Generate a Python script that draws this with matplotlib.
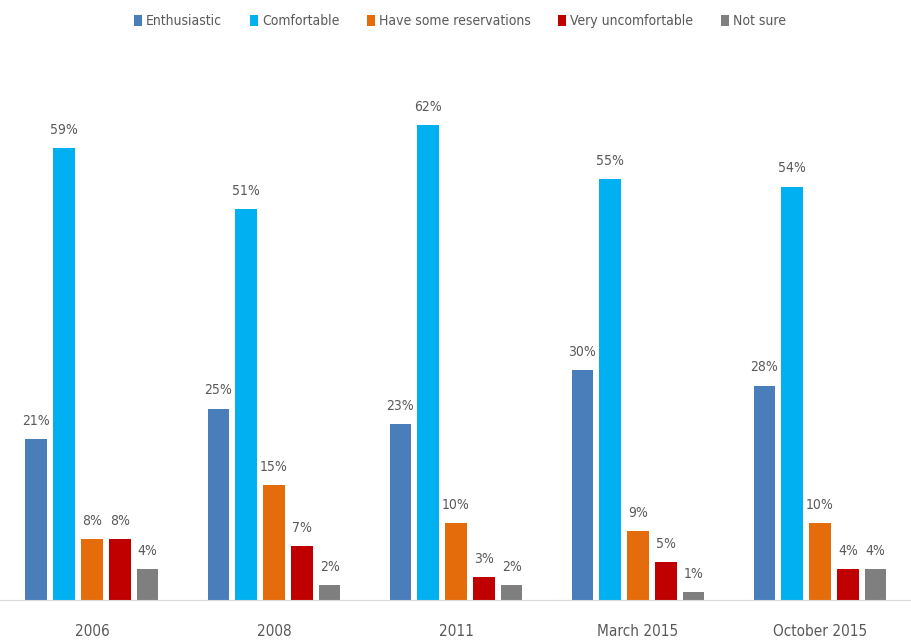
import numpy as np
import matplotlib.pyplot as plt
from matplotlib import font_manager

condensed = [f for f in font_manager.fontManager.ttflist
             if f.name == "DejaVu Sans" and f.stretch in ("condensed", "semi-condensed", 500, 600)]
if condensed:
    plt.rcParams["font.stretch"] = "condensed"
plt.rcParams["font.family"] = ["DejaVu Sans"]

years = ["2006", "2008", "2011", "March 2015", "October 2015"]
series = ["Enthusiastic", "Comfortable", "Have some reservations",
          "Very uncomfortable", "Not sure"]
enthusiastic = [21, 25, 23, 30, 28]
comfortable = [59, 51, 62, 55, 54]
reservations = [8, 15, 10, 9, 10]
uncomfortable = [8, 7, 3, 5, 4]
not_sure = [4, 2, 2, 1, 4]
values = [enthusiastic, comfortable, reservations, uncomfortable, not_sure]
colors = ["#4A7EBB", "#00B0F0", "#E46C0A", "#C00000", "#7F7F7F"]

fs = 10 if condensed else 9
text_col = "#595959"
fig = plt.figure(figsize=(9.11, 6.43), dpi=100)
ax = fig.add_axes([0, 43 / 643, 1, 1 - 43 / 643 - 64 / 643])

x = np.arange(len(years))
pitch = 0.153
width = 0.118
for i, (name, vals, c) in enumerate(zip(series, values, colors)):
    pos = x + (i - 2) * pitch
    bars = ax.bar(pos, vals, width, color=c, label=name)
    for b, v in zip(bars, vals):
        ax.annotate(f"{v}%", (b.get_x() + b.get_width() / 2, v),
                    xytext=(0, 8), textcoords="offset points",
                    ha="center", va="bottom", fontsize=fs, color=text_col)

ax.set_xlim(-0.505, 4.5)
ax.set_ylim(0, 70)
ax.set_xticks(x)
ax.set_xticklabels(years, fontsize=fs + 1, color=text_col)
ax.tick_params(axis="x", length=0, pad=17)
ax.set_yticks([])
for s in ["top", "right", "left"]:
    ax.spines[s].set_visible(False)
ax.spines["bottom"].set_color("#D9D9D9")

fig.legend(loc="upper center", bbox_to_anchor=(0.505, 0.997), ncol=5, frameon=False,
           fontsize=fs, handlelength=0.55, handleheight=0.8, handletextpad=0.3,
           columnspacing=2.0, labelcolor=text_col)

fig.savefig("out.png", dpi=100)
